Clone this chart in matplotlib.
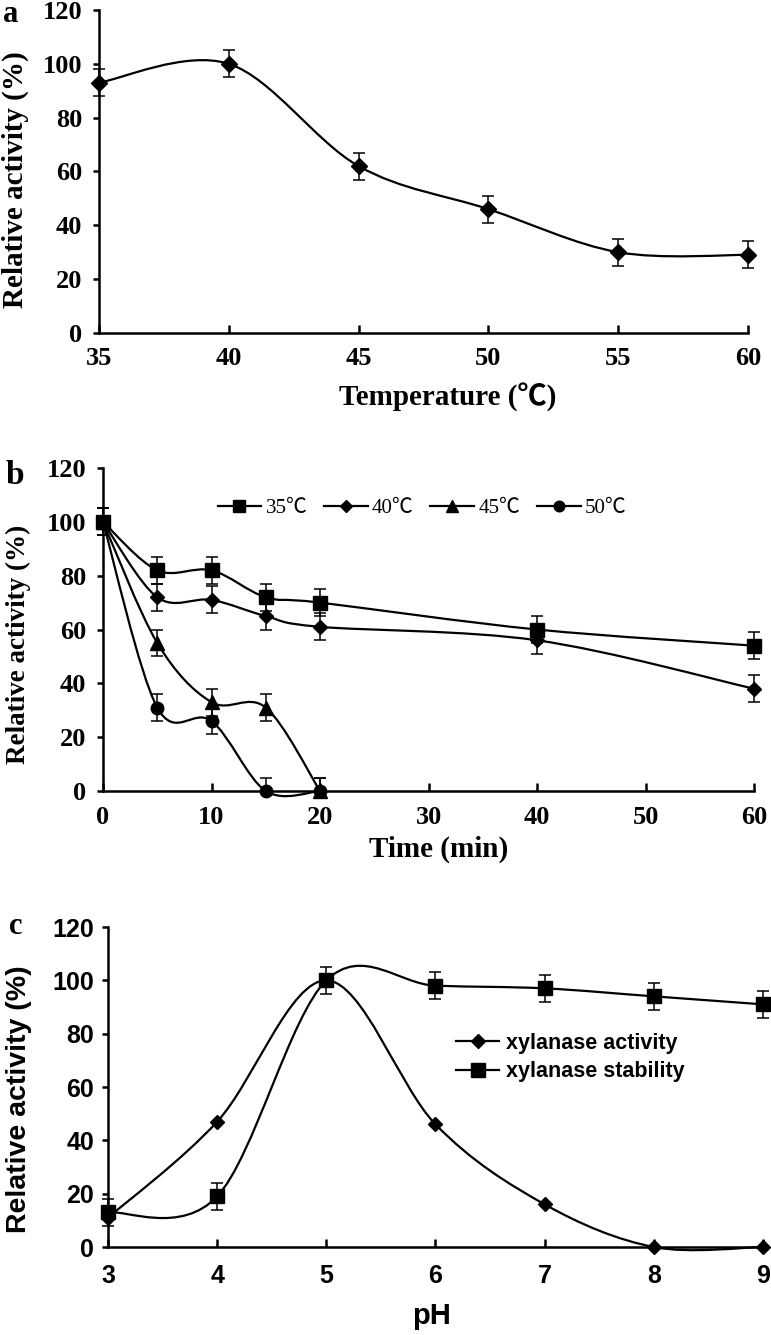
import matplotlib
matplotlib.use("Agg")
import matplotlib.pyplot as plt
from matplotlib.path import Path
from matplotlib.patches import PathPatch
from matplotlib.lines import Line2D

# Panel a: temperature optimum
temp = [35, 40, 45, 50, 55, 60]
temp_act = [93, 100, 62, 46, 30, 29]
temp_err = [5, 5, 5, 5, 5, 5]

# Panel b: thermal stability over time
time_min = [0, 5, 10, 15, 20, 40, 60]
stab_35 = [100, 82, 82, 72, 70, 60, 54]
stab_40 = [100, 72, 71, 65, 61, 56, 38]
time_short = [0, 5, 10, 15, 20]
stab_45 = [100, 55, 33, 31, 0]
stab_50 = [100, 31, 26, 0, 0]
err_b = 5

# Panel c: pH profile
ph = [3, 4, 5, 6, 7, 8, 9]
ph_activity = [11, 47, 100, 46, 16, 0, 0]
ph_stability = [13, 19, 100, 98, 97, 94, 91]
ph_err = [5, 5, 5, 5, 5, 5, 5]

SERIF = ["Liberation Serif", "Noto Sans CJK SC"]
SANS = ["Liberation Sans", "Noto Sans CJK SC"]

plt.rcParams["font.weight"] = "bold"


def smooth_line(ax, x, y, lw=1.6):
    # Excel-like smoothed line (Catmull-Rom as cubic Bezier)
    pts = list(zip(x, y))
    n = len(pts)
    verts = [pts[0]]
    codes = [Path.MOVETO]
    for i in range(n - 1):
        p0 = pts[i - 1] if i > 0 else pts[i]
        p1 = pts[i]
        p2 = pts[i + 1]
        p3 = pts[i + 2] if i + 2 < n else pts[i + 1]
        c1 = (p1[0] + (p2[0] - p0[0]) / 6, p1[1] + (p2[1] - p0[1]) / 6)
        c2 = (p2[0] - (p3[0] - p1[0]) / 6, p2[1] - (p3[1] - p1[1]) / 6)
        verts += [c1, c2, p2]
        codes += [Path.CURVE4] * 3
    ax.add_patch(PathPatch(Path(verts, codes), fill=False, lw=lw, ec="black",
                           clip_on=False, zorder=2))


def errbars(ax, x, y, err):
    lower = [min(v, e) for v, e in zip(y, err)]
    ax.errorbar(x, y, yerr=[lower, err], fmt="none", ecolor="black",
                elinewidth=1.1, capsize=4, capthick=1.1, clip_on=False, zorder=3)


def style_axes(ax, family, size, xpad, ypad):
    for s in ["top", "right"]:
        ax.spines[s].set_visible(False)
    for s in ["left", "bottom"]:
        ax.spines[s].set_linewidth(1.8)
    ax.tick_params(axis="x", direction="in", length=6, width=1.8, pad=xpad,
                   labelsize=size, labelfontfamily=family)
    ax.tick_params(axis="y", direction="out", length=4, width=1.8, pad=ypad,
                   labelsize=size, labelfontfamily=family)


fig = plt.figure(figsize=(7.71, 13.35), dpi=100)

# ---- a ----
ax = fig.add_axes([0.1284, 0.7506, 0.8418, 0.2419])
smooth_line(ax, temp, temp_act)
errbars(ax, temp, temp_act, temp_err)
ax.plot(temp, temp_act, "D", color="black", ms=8, clip_on=False, zorder=4)
ax.set_xlim(35, 60)
ax.set_ylim(0, 120)
ax.set_xticks(temp)
ax.set_yticks(range(0, 121, 20))
style_axes(ax, SERIF, 19, 10, 8)
fig.text(448 / 771, 1 - 397 / 1335, "Temperature (℃)", family=SERIF,
         fontweight="bold", fontsize=21, ha="center", va="center")
fig.text(15 / 771, 1 - 180 / 1335, "Relative activity (%)", family=SERIF,
         fontweight="bold", fontsize=21, rotation=90, ha="center", va="center")
fig.text(11 / 771, 1 - 14 / 1335, "a", family=SERIF, fontweight="bold",
         fontsize=22, ha="center", va="center")

# ---- b ----
ax = fig.add_axes([0.1336, 0.4075, 0.8444, 0.2419])
series_b = [
    (time_min, stab_35, "s", 10, "35℃"),
    (time_min, stab_40, "D", 7.5, "40℃"),
    (time_short, stab_45, "^", 10, "45℃"),
    (time_short, stab_50, "o", 9, "50℃"),
]
handles = []
for xs, ys, mk, ms, lab in series_b:
    smooth_line(ax, xs, ys)
    errbars(ax, xs, ys, [err_b] * len(ys))
    ax.plot(xs, ys, mk, color="black", ms=ms, clip_on=False, zorder=4)
    handles.append(Line2D([], [], color="black", lw=1.6, marker=mk, ms=ms * 0.85, label=lab))
ax.set_xlim(0, 60)
ax.set_ylim(0, 120)
ax.set_xticks(range(0, 61, 10))
ax.set_yticks(range(0, 121, 20))
style_axes(ax, SERIF, 19, 11, 8)
ax.legend(handles=handles, loc="center", bbox_to_anchor=(0.49, 0.876), ncol=4,
          frameon=False, handlelength=2.1, handletextpad=0.2, columnspacing=0.8,
          prop={"family": SERIF, "size": 15, "weight": "normal"})
fig.text(439 / 771, 1 - 849 / 1335, "Time (min)", family=SERIF,
         fontweight="bold", fontsize=21, ha="center", va="center")
fig.text(18 / 771, 1 - 644 / 1335, "Relative activity (%)", family=SERIF,
         fontweight="bold", fontsize=19.5, rotation=90, ha="center", va="center")
fig.text(15 / 771, 1 - 475 / 1335, "b", family=SERIF, fontweight="bold",
         fontsize=24, ha="center", va="center")

# ---- c ----
ax = fig.add_axes([0.1401, 0.0659, 0.8495, 0.2397])
smooth_line(ax, ph, ph_activity)
smooth_line(ax, ph, ph_stability)
errbars(ax, ph, ph_stability, ph_err)
ax.plot(ph, ph_activity, "D", color="black", ms=7.5, clip_on=False, zorder=4)
ax.plot(ph, ph_stability, "s", color="black", ms=10.5, clip_on=False, zorder=4)
ax.set_xlim(3, 9)
ax.set_ylim(0, 120)
ax.set_xticks(ph)
ax.set_yticks(range(0, 121, 20))
style_axes(ax, SANS, 18, 12, 6)
handles = [
    Line2D([], [], color="black", lw=1.6, marker="D", ms=7, label="xylanase activity"),
    Line2D([], [], color="black", lw=1.6, marker="s", ms=10, label="xylanase stability"),
]
ax.legend(handles=handles, loc="center left", bbox_to_anchor=(0.515, 0.592),
          frameon=False, handlelength=2.0, handletextpad=0.3, labelspacing=0.35,
          borderpad=0, prop={"family": SANS, "weight": "bold", "size": 15.5})
fig.text(432 / 771, 1 - 1316 / 1335, "pH", family=SANS,
         fontweight="bold", fontsize=21, ha="center", va="center")
fig.text(19 / 771, 1 - 1099 / 1335, "Relative activity (%)", family=SANS,
         fontweight="bold", fontsize=20.5, rotation=90, ha="center", va="center")
fig.text(16 / 771, 1 - 927 / 1335, "c", family=SERIF, fontweight="bold",
         fontsize=22, ha="center", va="center")

fig.savefig("out.png", dpi=100)
